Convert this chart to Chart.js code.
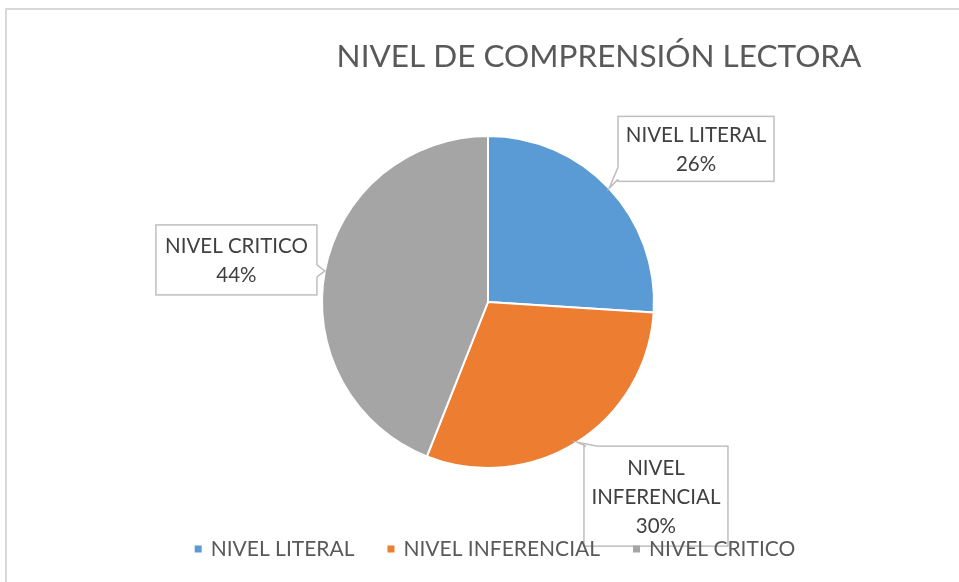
<!DOCTYPE html>
<html>
<head>
<meta charset="utf-8">
<script src="https://cdn.jsdelivr.net/npm/chart.js@4.4.0/dist/chart.umd.min.js"></script>
<style>
  html, body { margin: 0; padding: 0; background: #fff; }
  canvas { display: block; }
</style>
</head>
<body>
<canvas id="pieChart" width="959" height="582"></canvas>
<script>
const chartTitle = 'NIVEL DE COMPRENSIÓN LECTORA';
const categories = ['NIVEL LITERAL', 'NIVEL INFERENCIAL', 'NIVEL CRITICO'];
const values = [26, 30, 44];
const colors = ['#5B9BD5', '#ED7D31', '#A5A5A5'];
// callout text, one array of lines per slice (percentage added below)
const calloutLines = [['NIVEL LITERAL'], ['NIVEL', 'INFERENCIAL'], ['NIVEL CRITICO']];

const FONT = 'Lato, "Open Sans", sans-serif';

// where each callout box sits, relative to the point on the slice edge
const calloutBoxes = [
    { dx: 9, dy: -72, w: 156, h: 65, side: 'left' },
    { dx: 7, dy: 4, w: 144, h: 100, side: 'top' },
    { dx: -169, dy: -46, w: 161, h: 70, side: 'right' }
];

function percentText(i) {
    const total = values.reduce((a, b) => a + b, 0);
    return Math.round(values[i] / total * 100) + '%';
}

const decorPlugin = {
    id: 'decor',
    beforeDraw(chart) {
        const ctx = chart.ctx;
        ctx.save();
        ctx.strokeStyle = '#d9d9d9';
        ctx.lineWidth = 2;
        ctx.strokeRect(6, 9, 1200, 1200);
        ctx.fillStyle = '#595959';
        ctx.font = '31.5px ' + FONT;
        ctx.textAlign = 'center';
        ctx.textBaseline = 'alphabetic';
        ctx.fillText(chartTitle, 599, 67);
        ctx.restore();
    },
    afterDatasetsDraw(chart) {
        const ctx = chart.ctx;
        const meta = chart.getDatasetMeta(0);
        ctx.save();
        meta.data.forEach((arc, i) => {
            const p = arc.getProps(['x', 'y', 'startAngle', 'endAngle', 'outerRadius'], true);
            const mid = (p.startAngle + p.endAngle) / 2;
            const tip = { x: p.x + Math.cos(mid) * p.outerRadius, y: p.y + Math.sin(mid) * p.outerRadius };
            const b = calloutBoxes[i];
            const left = tip.x + b.dx, top = tip.y + b.dy;
            const right = left + b.w, bottom = top + b.h;

            ctx.fillStyle = '#fff';
            ctx.strokeStyle = '#bfbfbf';
            ctx.lineWidth = 1.5;
            ctx.fillRect(left, top, b.w, b.h);
            ctx.strokeRect(left, top, b.w, b.h);

            // pointer base on the chosen side
            let b1, b2;
            const clamp = (v, lo, hi) => Math.max(lo, Math.min(hi, v));
            if (b.side === 'left' || b.side === 'right') {
                const x = b.side === 'left' ? left : right;
                const c = clamp(tip.y, top + 8, bottom - 8);
                b1 = { x: x, y: c - 6 }; b2 = { x: x, y: c + 6 };
            } else {
                const y = b.side === 'top' ? top : bottom;
                const c = clamp(tip.x, left + 8, right - 8);
                b1 = { x: c - 6, y: y }; b2 = { x: c + 6, y: y };
            }
            ctx.beginPath();
            ctx.moveTo(b1.x, b1.y);
            ctx.lineTo(tip.x, tip.y);
            ctx.lineTo(b2.x, b2.y);
            ctx.closePath();
            ctx.fill();
            ctx.strokeStyle = '#fff';
            ctx.lineWidth = 2.5;
            ctx.beginPath();
            ctx.moveTo(b1.x, b1.y);
            ctx.lineTo(b2.x, b2.y);
            ctx.stroke();
            ctx.strokeStyle = '#bfbfbf';
            ctx.lineWidth = 1.5;
            ctx.beginPath();
            ctx.moveTo(b1.x, b1.y);
            ctx.lineTo(tip.x, tip.y);
            ctx.lineTo(b2.x, b2.y);
            ctx.stroke();

            const lines = calloutLines[i].concat([percentText(i)]);
            const lh = 29;
            const cx = (left + right) / 2;
            const cy = (top + bottom) / 2;
            ctx.fillStyle = '#404040';
            ctx.font = '20.5px ' + FONT;
            ctx.textAlign = 'center';
            ctx.textBaseline = 'middle';
            lines.forEach((t, k) => {
                ctx.fillText(t, cx, cy + (k - (lines.length - 1) / 2) * lh + 1);
            });
        });
        ctx.restore();
    },
    afterDraw(chart) {
        // legend along the bottom
        const ctx = chart.ctx;
        ctx.save();
        ctx.font = '21px ' + FONT;
        ctx.textBaseline = 'middle';
        ctx.textAlign = 'left';
        const box = 7, gapBox = 9, gapItem = 33;
        const widths = categories.map(c => ctx.measureText(c).width);
        let total = widths.reduce((a, w) => a + box + gapBox + w, 0) + gapItem * (categories.length - 1);
        let x = 495 - total / 2;
        const y = 549;
        categories.forEach((c, i) => {
            ctx.fillStyle = colors[i];
            ctx.fillRect(x, y - box / 2, box, box);
            ctx.fillStyle = '#595959';
            ctx.fillText(c, x + box + gapBox, y);
            x += box + gapBox + widths[i] + gapItem;
        });
        ctx.restore();
    }
};

new Chart(document.getElementById('pieChart').getContext('2d'), {
    type: 'pie',
    data: {
        labels: categories,
        datasets: [{
            data: values,
            backgroundColor: colors,
            borderColor: '#ffffff',
            borderWidth: 2,
            radius: 166
        }]
    },
    options: {
        responsive: false,
        devicePixelRatio: 1,
        animation: false,
        layout: { padding: { left: 17, top: 22, right: 0, bottom: 0 } },
        plugins: {
            legend: { display: false },
            title: { display: false },
            tooltip: { enabled: false }
        }
    },
    plugins: [decorPlugin]
});
</script>
</body>
</html>
